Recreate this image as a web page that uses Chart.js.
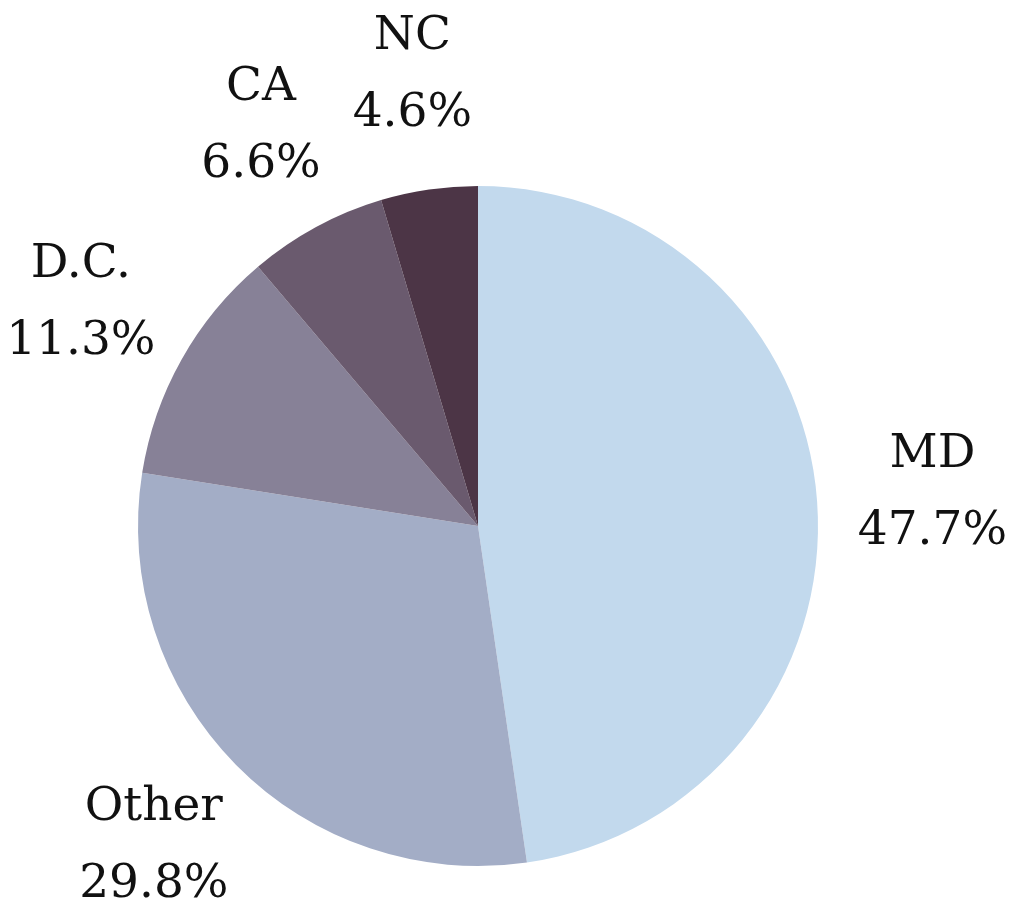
<!DOCTYPE html>
<html lang="en">
<head>
    <meta charset="UTF-8">
    <title>Share by state</title>
    <script src="https://cdn.jsdelivr.net/npm/chart.js"></script>
    <style>
        html, body { margin: 0; padding: 0; background: #fff; }
        #wrap { width: 1020px; height: 911px; }
    </style>
</head>
<body>
    <div id="wrap"><canvas id="pie" width="1020" height="911"></canvas></div>
    <script>
        const labels = ['MD', 'Other', 'D.C.', 'CA', 'NC'];
        const shares = [47.7, 29.8, 11.3, 6.6, 4.6];
        const colors = ['#c2d9ed', '#a3adc6', '#878197', '#6a5a6e', '#4c3546'];

        // two-line label (name + percent) placed outside each slice
        const outsideLabels = {
            id: 'outsideLabels',
            afterDatasetsDraw(chart) {
                const ctx = chart.ctx;
                const meta = chart.getDatasetMeta(0);
                ctx.save();
                ctx.font = '47px "DejaVu Serif"';
                ctx.fillStyle = '#111';
                ctx.textAlign = 'center';
                ctx.textBaseline = 'middle';
                meta.data.forEach((arc, i) => {
                    const p = arc.getProps(['x', 'y', 'startAngle', 'endAngle', 'outerRadius'], true);
                    const mid = (p.startAngle + p.endAngle) / 2;
                    const r = p.outerRadius * 1.34;
                    const x = p.x + Math.cos(mid) * r;
                    const y = p.y + Math.sin(mid) * r;
                    ctx.fillText(labels[i], x, y - 38);
                    ctx.fillText(shares[i].toFixed(1) + '%', x, y + 39);
                });
                ctx.restore();
            }
        };

        new Chart(document.getElementById('pie'), {
            type: 'pie',
            data: {
                labels: labels,
                datasets: [{
                    data: shares,
                    backgroundColor: colors,
                    borderWidth: 0
                }]
            },
            options: {
                responsive: false,
                animation: false,
                layout: { padding: { left: 138, right: 202, top: 186, bottom: 45 } },
                plugins: {
                    legend: { display: false },
                    tooltip: { enabled: false }
                }
            },
            plugins: [outsideLabels]
        });
    </script>
</body>
</html>
